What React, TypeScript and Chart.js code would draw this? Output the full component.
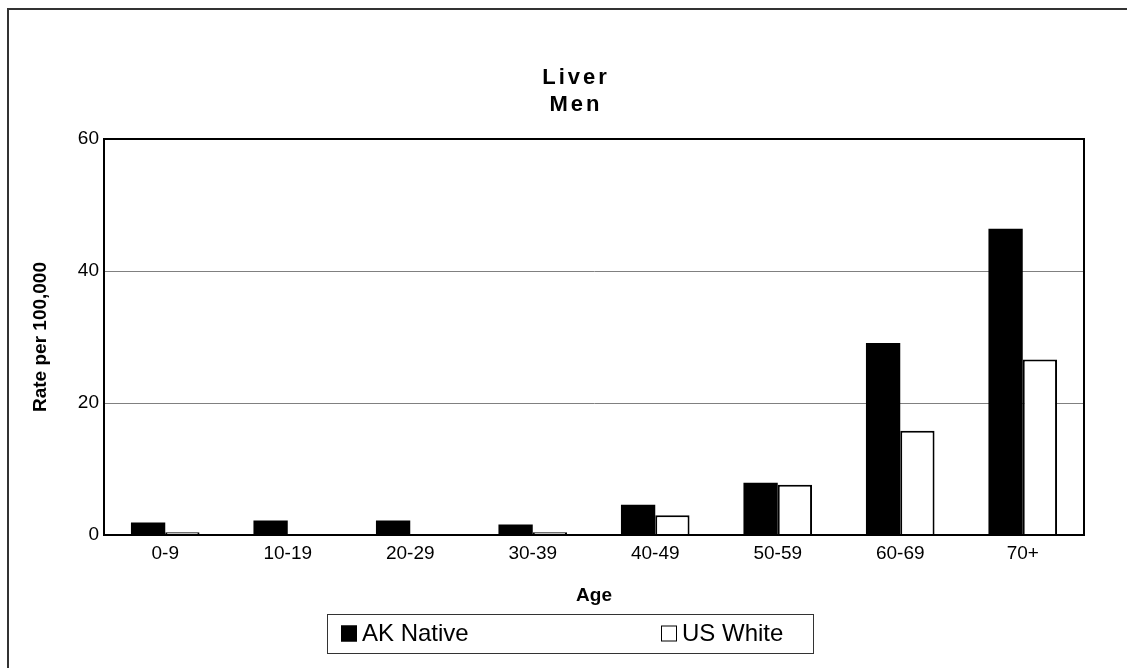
import React, { useEffect, useRef } from 'react';
import { Chart, registerables } from 'chart.js';

Chart.register(...registerables);

const titleLines = ['Liver', 'Men'];
const categories = ['0-9', '10-19', '20-29', '30-39', '40-49', '50-59', '60-69', '70+'];
const akNative = [1.9, 2.2, 2.2, 1.6, 4.6, 7.9, 29.1, 46.4];
const usWhite = [0.4, 0, 0, 0.4, 3.0, 7.6, 15.8, 26.6];
const seriesNames = ['AK Native', 'US White'];
const yMin = 0;
const yMax = 60;
const yStep = 20;
const xTitle = 'Age';
const yTitle = 'Rate per 100,000';

const FONT = "'Liberation Sans', Arial, sans-serif";

const decorPlugin = {
  id: 'decor',
  beforeDraw(chart: any) {
    const ctx = chart.ctx;
    ctx.save();
    ctx.fillStyle = '#ffffff';
    ctx.fillRect(0, 0, chart.width, chart.height);
    // outer chart frame (only top and left visible)
    ctx.strokeStyle = '#333333';
    ctx.lineWidth = 2;
    ctx.beginPath();
    ctx.moveTo(8, chart.height + 2);
    ctx.lineTo(8, 9);
    ctx.lineTo(chart.width + 2, 9);
    ctx.stroke();
    ctx.restore();
  },
  afterDraw(chart: any) {
    const ctx = chart.ctx;
    const { left, top, right, bottom } = chart.chartArea;
    ctx.save();
    // plot area frame
    ctx.strokeStyle = '#000000';
    ctx.lineWidth = 2;
    ctx.strokeRect(left, top, right - left, bottom - top);

    // title
    ctx.fillStyle = '#000000';
    ctx.font = `bold 22px ${FONT}`;
    (ctx as any).letterSpacing = '3px';
    ctx.textAlign = 'center';
    ctx.textBaseline = 'middle';
    const tx = 576;
    titleLines.forEach((t, i) => ctx.fillText(t, tx, 78 + i * 27));
    (ctx as any).letterSpacing = '0px';

    // legend
    const bx = 327, by = 614, bw = 486, bh = 39;
    ctx.strokeStyle = '#333333';
    ctx.lineWidth = 1;
    ctx.strokeRect(bx + 0.5, by + 0.5, bw, bh);
    const cy = by + bh / 2;
    const itemX = [341, 661];
    ctx.font = `24px ${FONT}`;
    ctx.textAlign = 'left';
    ctx.textBaseline = 'middle';
    chart.data.datasets.forEach((ds: any, i: number) => {
      const x = itemX[i];
      const s = 16;
      ctx.fillStyle = ds.backgroundColor;
      ctx.fillRect(x, cy - s / 2, s, s);
      ctx.strokeStyle = '#000000';
      ctx.lineWidth = 1;
      ctx.strokeRect(x + 0.5, cy - s / 2 + 0.5, s - 1, s - 1);
      ctx.fillStyle = '#000000';
      ctx.fillText(ds.label, x + 21, cy + 1);
    });
    ctx.restore();
  },
};

export default function App() {
  const canvasRef = useRef<HTMLCanvasElement | null>(null);

  useEffect(() => {
    const canvas = canvasRef.current;
    if (!canvas) return;
    const chart = new Chart(canvas, {
      type: 'bar',
      data: {
        labels: categories,
        datasets: [
          {
            label: seriesNames[0],
            data: akNative,
            backgroundColor: '#000000',
            borderColor: '#000000',
            borderWidth: 0,
          },
          {
            label: seriesNames[1],
            data: usWhite,
            backgroundColor: '#ffffff',
            borderColor: '#000000',
            borderWidth: 2,
          },
        ],
      },
      options: {
        responsive: false,
        animation: false,
        devicePixelRatio: 1,
        layout: { padding: { left: 29, top: 139, right: 43, bottom: 61 } },
        datasets: { bar: { categoryPercentage: 0.56, barPercentage: 1.0 } },
        plugins: {
          legend: { display: false },
          title: { display: false },
          tooltip: { enabled: false },
        },
        scales: {
          x: {
            grid: { display: false, drawTicks: false },
            border: { display: true, color: '#000000', width: 2 },
            ticks: { color: '#000000', font: { family: FONT, size: 19 }, padding: 7, maxRotation: 0 },
            title: {
              display: true,
              text: xTitle,
              color: '#000000',
              font: { family: FONT, size: 19, weight: 'bold' },
              padding: 0,
            },
            afterFit(scale: any) {
              scale.height = 72;
            },
          },
          y: {
            min: yMin,
            max: yMax,
            grid: { color: '#808080', lineWidth: 1, drawTicks: false },
            border: { display: true, color: '#000000', width: 2 },
            ticks: { stepSize: yStep, color: '#000000', font: { family: FONT, size: 19 }, padding: 5 },
            title: {
              display: true,
              text: yTitle,
              color: '#000000',
              font: { family: FONT, size: 19, weight: 'bold' },
              padding: 0,
            },
            afterFit(scale: any) {
              scale.width = 75;
            },
          },
        },
      },
      plugins: [decorPlugin],
    });
    return () => chart.destroy();
  }, []);

  return (
    <div style={{ position: 'absolute', left: 0, top: 0, width: 1127, height: 668, background: '#fff' }}>
      <canvas ref={canvasRef} width={1127} height={668} style={{ display: 'block' }} />
    </div>
  );
}
